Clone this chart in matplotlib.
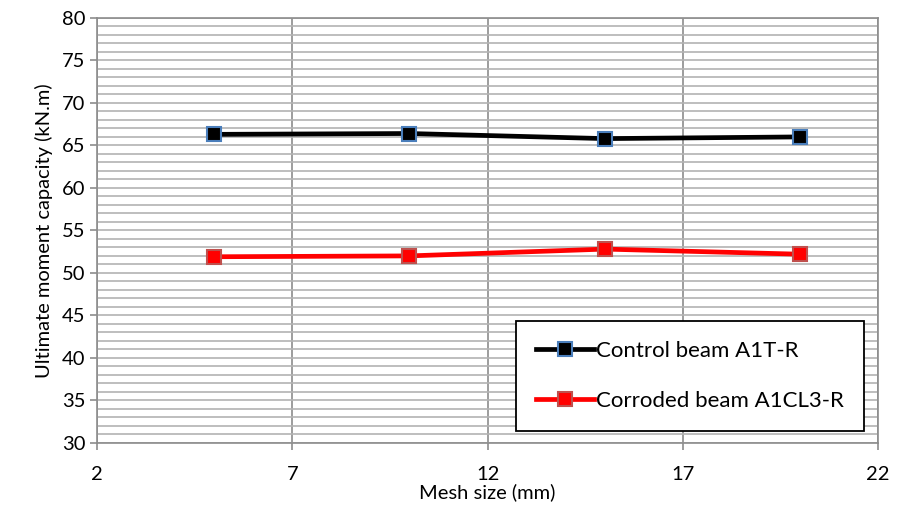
import matplotlib
matplotlib.use("Agg")
import matplotlib.pyplot as plt
from matplotlib.ticker import MultipleLocator

plt.rcParams['font.family'] = ['Lato', 'DejaVu Sans']

mesh_size = [5, 10, 15, 20]
control_beam = [66.3, 66.4, 65.8, 66.0]
corroded_beam = [51.9, 52.0, 52.8, 52.2]
x_ticks = [2, 7, 12, 17, 22]

fig = plt.figure(figsize=(8.98, 5.12), dpi=100)
ax = fig.add_axes([0.108, 0.135, 0.870, 0.830])

ax.plot(mesh_size, control_beam, color='black', linewidth=3.4, marker='s', markersize=10,
        markerfacecolor='black', markeredgecolor='#4a7ebb', markeredgewidth=1.5,
        label='Control beam A1T-R', zorder=3)
ax.plot(mesh_size, corroded_beam, color='#ff0000', linewidth=3.4, marker='s', markersize=10,
        markerfacecolor='#ff0000', markeredgecolor='#c0504d', markeredgewidth=1.5,
        label='Corroded beam A1CL3-R', zorder=3)

ax.set_xlim(2, 22)
ax.set_ylim(30, 80)
ax.set_xticks(x_ticks)
ax.yaxis.set_major_locator(MultipleLocator(5))
ax.yaxis.set_minor_locator(MultipleLocator(1))

ax.grid(True, axis='x', which='major', color='#8c8c8c', linewidth=1.2)
ax.grid(True, axis='y', which='major', color='#b3b3b3', linewidth=1.2)
ax.grid(True, axis='y', which='minor', color='#b3b3b3', linewidth=1.2)
ax.set_axisbelow(True)

for side in ['left', 'bottom', 'top', 'right']:
    ax.spines[side].set_color('#8c8c8c')
    ax.spines[side].set_linewidth(1.2)

ax.tick_params(axis='both', which='major', labelsize=14.5, length=5, color='#8c8c8c', width=1.2)
ax.tick_params(axis='x', which='major', pad=12)
ax.tick_params(axis='y', which='minor', length=0)

ax.set_xlabel('Mesh size (mm)', fontsize=14.5, labelpad=0)
ax.set_ylabel('Ultimate moment capacity (kN.m)', fontsize=14.5, labelpad=6)

leg = ax.legend(loc='lower right', bbox_to_anchor=(0.9815, 0.028), fontsize=16, frameon=True,
                fancybox=False, edgecolor='black', framealpha=1, borderpad=0.9,
                labelspacing=1.35, handlelength=2.6, handletextpad=0.1, borderaxespad=0)
leg.get_frame().set_linewidth(1.3)

fig.savefig('out.png', dpi=100)
